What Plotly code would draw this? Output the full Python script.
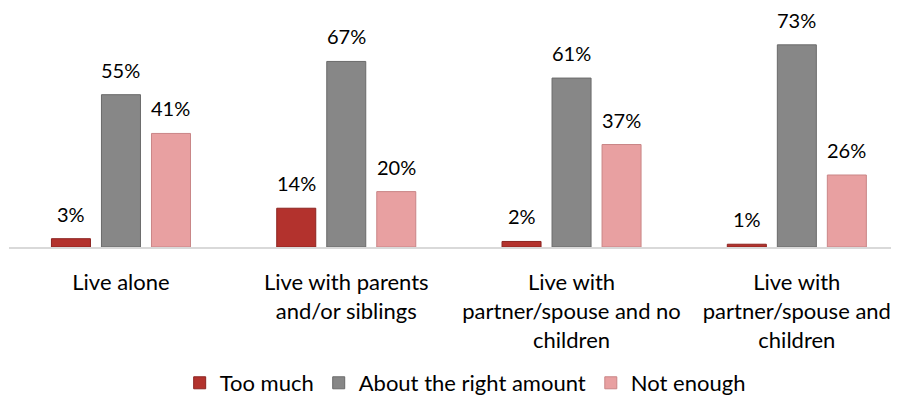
import plotly.graph_objects as go

categories = [
    "Live alone",
    "Live with parents<br>and/or siblings",
    "Live with<br>partner/spouse and no<br>children",
    "Live with<br>partner/spouse and<br>children",
]
series_names = ["Too much", "About the right amount", "Not enough"]
too_much = [3, 14, 2, 1]
about_right = [55, 67, 61, 73]
not_enough = [41, 20, 37, 26]
series_values = [too_much, about_right, not_enough]

colors = ["#b3322d", "#878787", "#e8a0a1"]
line_colors = ["#8c2421", "#6a6a6a", "#c98586"]
FONT = "Lato, Calibri, Carlito, sans-serif"

fig = go.Figure()
for name, vals, c, lc in zip(series_names, series_values, colors, line_colors):
    fig.add_trace(go.Bar(
        x=categories, y=vals, name=name,
        marker=dict(color=c, line=dict(color=lc, width=1)),
        hoverinfo="skip",
    ))

shifts = [-50, 0, 50]
for vals, sh in zip(series_values, shifts):
    for cat, v in zip(categories, vals):
        fig.add_annotation(
            x=cat, y=v, text=f"{v}%", showarrow=False,
            xshift=sh, yshift=25, yanchor="middle",
            font=dict(family=FONT, size=20, color="#000000"),
        )

fig.update_layout(
    width=899, height=402,
    margin=dict(l=1, r=0, t=0, b=163),
    paper_bgcolor="white", plot_bgcolor="white",
    barmode="group", bargap=0.334, bargroupgap=0.22,
    font=dict(family=FONT, size=22, color="#000000"),
    showlegend=True,
    legend=dict(
        orientation="h", x=0.508, xanchor="center", y=-0.569, yanchor="middle",
        font=dict(family=FONT, size=22, color="#000000"),
        itemclick=False, itemdoubleclick=False,
    ),
)
fig.update_xaxes(
    type="category", range=[-0.497, 3.489],
    showline=True, linecolor="#d9d9d9", linewidth=2,
    showgrid=False, ticks="", ticklabelstandoff=15,
    tickfont=dict(family=FONT, size=22, color="#000000"),
)
fig.update_yaxes(range=[0, 86.3], visible=False, showgrid=False)

fig.write_html("out.html")
